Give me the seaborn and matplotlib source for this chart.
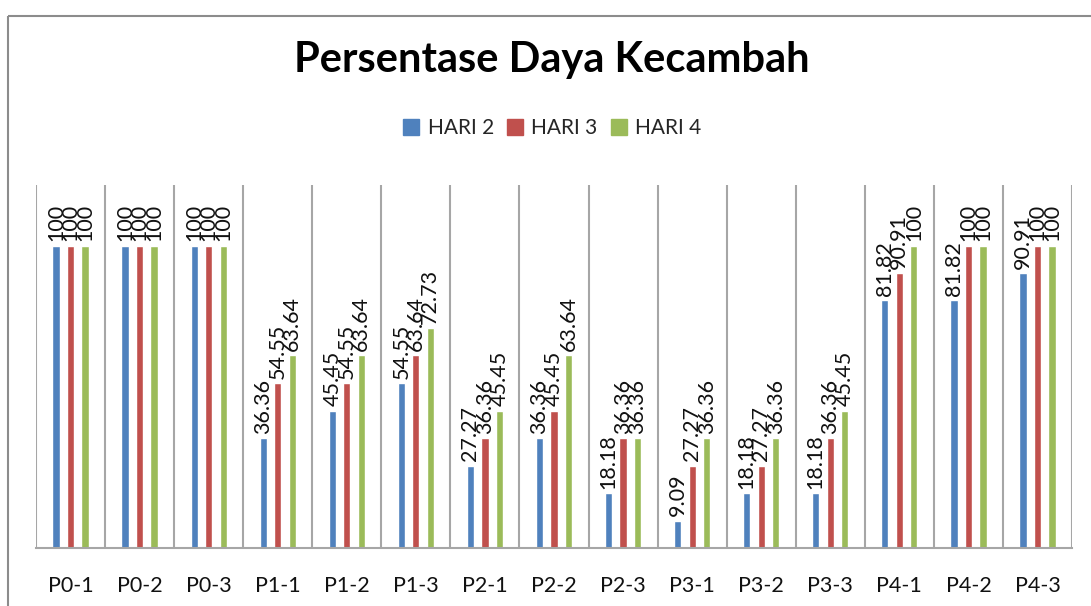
import numpy as np
import pandas as pd
import seaborn as sns
import matplotlib.pyplot as plt
from matplotlib.lines import Line2D
from matplotlib.patches import Rectangle

sns.set_style('white')
plt.rcParams['font.family'] = ['Lato', 'DejaVu Sans']

plots = ["P0-1", "P0-2", "P0-3", "P1-1", "P1-2", "P1-3", "P2-1", "P2-2",
         "P2-3", "P3-1", "P3-2", "P3-3", "P4-1", "P4-2", "P4-3"]
hari2 = [100, 100, 100, 36.36, 45.45, 54.55, 27.27, 36.36, 18.18, 9.09, 18.18, 18.18, 81.82, 81.82, 90.91]
hari3 = [100, 100, 100, 54.55, 54.55, 63.64, 36.36, 45.45, 36.36, 27.27, 27.27, 36.36, 90.91, 100, 100]
hari4 = [100, 100, 100, 63.64, 63.64, 72.73, 45.45, 63.64, 36.36, 36.36, 36.36, 45.45, 100, 100, 100]
series = ["HARI 2", "HARI 3", "HARI 4"]
colors = ["#4F81BD", "#C0504D", "#9BBB59"]

df = pd.DataFrame({"plot": plots, "HARI 2": hari2, "HARI 3": hari3, "HARI 4": hari4})
df = pd.melt(df, id_vars="plot", var_name="hari", value_name="persen")

fig = plt.figure(figsize=(10.91, 6.06), dpi=100)
ax = fig.add_axes([36 / 1091, 1 - 548 / 606, (1072 - 36) / 1091, (548 - 185) / 606])

sns.barplot(data=df, x="plot", y="persen", hue="hari", hue_order=series, order=plots,
            palette=colors, saturation=1, width=0.63, gap=0.5, ax=ax, legend=False)

for cont in ax.containers:
    ax.bar_label(cont, labels=[f"{b.get_height():g}" for b in cont], rotation=90,
                 padding=3, fontsize=15.5, color="#111111")

ax.set_ylim(0, 120)
ax.set_xlim(-0.5, len(plots) - 0.5)
ax.set_yticks([])
ax.set_xlabel("")
ax.set_ylabel("")
for x in np.arange(-0.5, len(plots), 1):
    ax.axvline(x, color="#A6A6A6", lw=1.5, zorder=0)
for s in ["top", "right", "left"]:
    ax.spines[s].set_visible(False)
ax.spines["bottom"].set_color("#A6A6A6")
ax.spines["bottom"].set_linewidth(1.5)
ax.tick_params(axis="x", length=0, pad=20, labelsize=15.5, labelcolor="#111111")

fig.text(0.506, 1 - 60 / 606, "Persentase Daya Kecambah", ha="center", va="center",
         fontsize=30, fontweight="bold", color="black")

handles = [Line2D([], [], marker="s", linestyle="", markersize=11, color=c, label=l)
           for c, l in zip(colors, series)]
fig.legend(handles=handles, loc="center", bbox_to_anchor=(0.506, 1 - 128 / 606), ncol=3,
           frameon=False, fontsize=15, handlelength=0.8, handletextpad=0.4, columnspacing=0.6)

fig.patches.append(Rectangle((8, 600 - 10), 1200, -700, transform=None, fill=False,
                             edgecolor="#8C8C8C", lw=1.5))

fig.savefig("out.png", dpi=100)
